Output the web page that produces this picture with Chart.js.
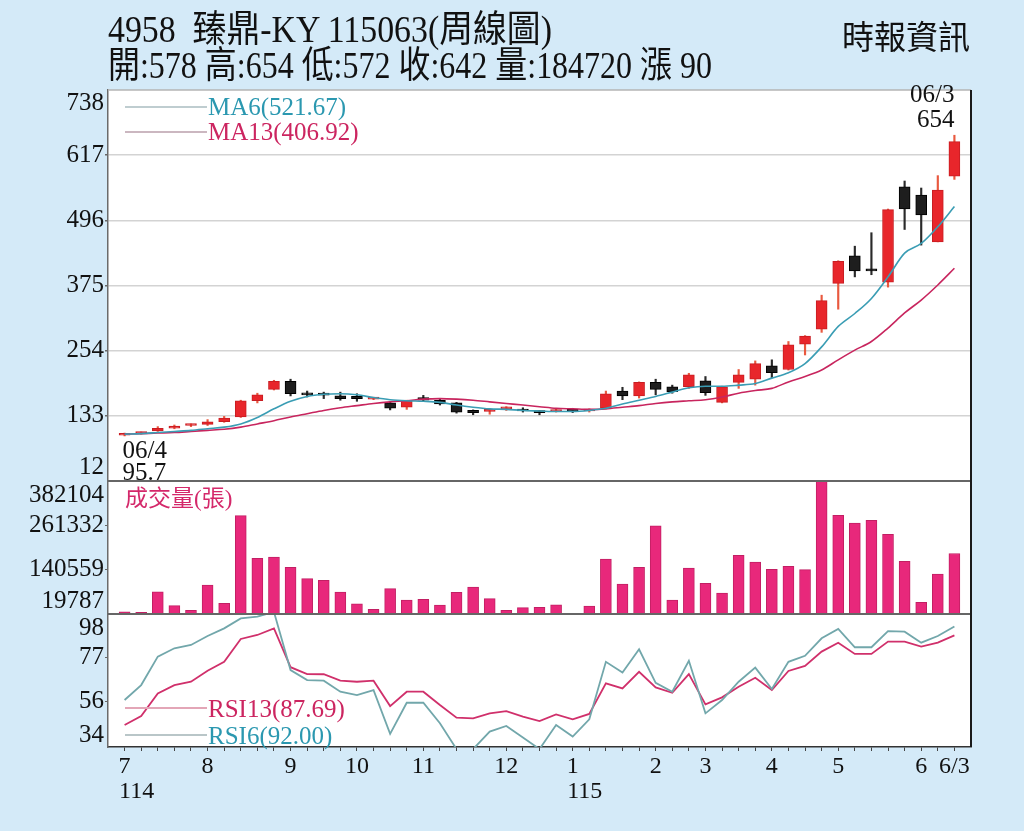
<!DOCTYPE html>
<html><head><meta charset="utf-8">
<script src="https://cdn.jsdelivr.net/npm/chart.js@4/dist/chart.umd.min.js"></script>
<style>
html,body{margin:0;padding:0;background:#d4eaf8;width:1024px;height:831px;overflow:hidden;}
#wrap{position:relative;width:1024px;height:831px;}
canvas{position:absolute;left:0;top:0;}
.t{position:absolute;white-space:pre;font-family:'Liberation Serif','Noto Sans CJK TC',serif;color:#111;transform-origin:left center;}
.ln{position:absolute;height:1.5px;}
</style></head><body>
<div id="wrap">
<canvas id="c" width="1024" height="831"></canvas>
<div class="t" id="title1" style="left:108px;top:11px;font-size:37px;line-height:38px;">4958  臻鼎-KY 115063(周線圖)</div>
<div class="t" id="title2" style="left:108px;top:47px;font-size:37px;line-height:38px;"></div>
<div class="t" id="brand" style="left:842px;top:21px;font-size:33px;line-height:34px;">時報資訊</div>
<div class="ln" style="left:125px;top:106px;width:82px;background:#bfcdd0;"></div>
<div class="ln" style="left:125px;top:131px;width:82px;background:#cbb7c0;"></div>
<div class="t" id="lgMA6" style="left:208px;top:94px;font-size:25px;line-height:25px;color:#2b98b0;"></div>
<div class="t" id="lgMA13" style="left:208px;top:119px;font-size:25px;line-height:25px;color:#cc2560;"></div>
<div class="t" id="lgVol" style="left:125px;top:486px;font-size:23px;line-height:25px;color:#d4286a;">成交量(張)</div>
<div class="ln" style="left:125px;top:707px;width:82px;background:#e3a6b7;"></div>
<div class="ln" style="left:125px;top:734px;width:82px;background:#b9c6c8;"></div>
<div class="t" id="lgRSI13" style="left:208px;top:696px;font-size:25px;line-height:25px;color:#cc2560;"></div>
<div class="t" id="lgRSI6" style="left:208px;top:723px;font-size:25px;line-height:25px;color:#2b98b0;"></div>
</div>
<script>
// ---- data (weekly, 06/4 of year 114 to 06/3 of year 115) ----
const dateFirst = '06/4';
const dateLast = '06/3';
const openP  = [97,100,105,110,115,117,122,131,161,182,197,175,172,170,169,164,157,149,167,162,157,143,141,146,145,139.5,141,145,142,147,179,170,195,187,187,198,158,195,201,226,219,266,294,379,430,406,381,558,543,456,578];
const highP  = [101,103,113,116,118,126,132,162,175,199,201,179,177,177,174,167,159,162,171,165,158,144,146,150,148,142,146,147,146,179,186,196,201,190,212,206,188,219,235,237,271,282,357,421,448,473,517,569,556,579,654];
const lowP   = [95.7,99,104,109,113,115,121,130,157,181,170,168,165,162,160,163,144,145,160,153,138,135,136,143,140,135,140,139,140,146,163,166,172,175,184,171,157,184,190,204,218,246,288,331,391,395,372,479,450,456,572];
const closeP = [100,102,110,114,116,122,129,161,172,197,174,172,171.5,165,165,165,147,161,162,155,140,139,145,147,142,139,144,141,143,174,170,195,182,178,209,176,187,209,230,213,265,281,347,420,402,402,516,517,506,552,642];
const volume = [26000,24400,80500,42400,29900,98800,49000,287600,171500,175100,147000,116000,111600,79700,47800,32600,88700,57900,59800,44300,78900,93300,61500,29900,37000,38000,45100,15000,41600,169600,101500,147000,260300,57900,145100,103400,77000,179700,161400,141500,149700,140500,382104,288700,267700,275000,236900,163300,51700,128800,184720];
const ma6  = [99,100,102,104,106,109,112,118,130,146,160,169,173,174,172,167,163,161,160,158,153,149,146,145,143,142,141,141,143,147,155,162,169,177,185,188,188,190,193,203,213,230,261,299,323,351,391,435,453,484,521.67];
const ma13 = [99,100,101,102,104,106,108,112,118,124,131,137,143,148,152,156,159,161,164,165,164,162,159,156,153,150,147,146,145,146,149,152,156,159,161,163,168,175,180,184,196,206,218,237,255,271,296,324,348,376,406.92];
const rsi6  = [56.6,63.8,77.5,81.5,83.1,87.4,91.1,95.9,96.7,99,71,66.2,65.9,60.6,59,61.4,40.3,55.3,55.3,45.4,33,33,41.4,44.1,38.6,33,44.6,39,47.3,75,69.8,81,64.9,60.6,75.5,50.2,56.6,65.4,72.2,61.9,75,77.9,86.3,90.8,82,82,89.8,89.5,84.2,87.4,92.00];
const rsi13 = [44.6,48.9,59.8,63.8,65.4,70.7,75,86,87.9,91.1,72.4,69.1,69,65.9,65.4,65.9,53.7,60.6,60.6,54.2,48.1,47.8,50.2,51.3,48.6,46.5,49.7,47.3,49.9,64.6,62.2,70.2,62.7,60.1,69.1,54.5,57.9,63,67.3,61.4,70.6,73,79.9,84.2,78.8,78.8,84.7,84.7,82.3,84.2,87.69];
const priceTicks  = [738,617,496,375,254,133,12];
const volumeTicks = [382104,261332,140559,19787];
const rsiTicks    = [98,77,56,34];
const monthTickIdx    = [0,5,10,14,18,23,27,32,35,39,43,48,50];
const monthTickLabels = [['7','    114'],'8','9','10','11','12',['1','    115'],'2','3','4','5','6','6/3'];

// ---- text ----
const last = closeP.length - 1;
document.getElementById('title2').textContent =
  `開:${openP[last]} 高:${highP[last]} 低:${lowP[last]} 收:${closeP[last]} 量:${volume[last]} 漲 ${closeP[last]-closeP[last-1]}`;
document.getElementById('lgMA6').textContent = `MA6(${ma6[last].toFixed(2)})`;
document.getElementById('lgMA13').textContent = `MA13(${ma13[last].toFixed(2)})`;
document.getElementById('lgRSI13').textContent = `RSI13(${rsi13[last].toFixed(2)})`;
document.getElementById('lgRSI6').textContent = `RSI6(${rsi6[last].toFixed(2)})`;
function fit(id, w){ const el=document.getElementById(id); const r=w/el.getBoundingClientRect().width; el.style.transform='scaleX('+r+')'; }
fit('title1', 444); fit('title2', 604); fit('brand', 128);

// ---- chart ----
const idx = closeP.map((_, i) => i);
const up = idx.map(i => closeP[i] >= openP[i]);
const SERIF = "'Liberation Serif', serif";
const tickFont = {family: SERIF, size: 25};

function endTicks(values, topFrac, botFrac){
  return axis => {
    const r = axis.max - axis.min;
    axis.ticks = values.map((v, i) => ({value: i === 0 ? v - r*topFrac : (i === values.length-1 ? v + r*botFrac : v)}));
  };
}
function midOnly(n, color){ return ctx => (ctx.index > 0 && ctx.index < n-1) ? color : 'rgba(0,0,0,0)'; }

const panels = {
  id: 'panels',
  beforeDraw(chart){
    const {ctx, chartArea: a} = chart;
    ctx.save(); ctx.fillStyle = '#ffffff'; ctx.fillRect(a.left, a.top, a.width, a.height); ctx.restore();
  },
  afterDraw(chart){
    const {ctx, chartArea: a, scales} = chart;
    ctx.save();
    ctx.strokeStyle = '#b5b5b5'; ctx.lineWidth = 1.5;
    ctx.beginPath(); ctx.moveTo(a.left, a.top); ctx.lineTo(a.right, a.top); ctx.stroke();
    ctx.strokeStyle = '#666'; ctx.lineWidth = 2;
    [scales.yV.top, scales.yR.top].forEach(y => { ctx.beginPath(); ctx.moveTo(a.left, y); ctx.lineTo(a.right, y); ctx.stroke(); });
    ctx.strokeStyle = '#1a1a1a'; ctx.lineWidth = 2;
    ctx.beginPath(); ctx.moveTo(a.right, a.top); ctx.lineTo(a.right, a.bottom); ctx.stroke();
    // annotations: first low and last high
    ctx.fillStyle = '#111'; ctx.font = '25px ' + SERIF; ctx.textBaseline = 'middle';
    const x0 = scales.x.getPixelForValue(0), yl = scales.yP.getPixelForValue(lowP[0]);
    ctx.textAlign = 'left';
    ctx.fillText(dateFirst, x0 - 2, yl + 16);
    ctx.fillText(String(lowP[0]), x0 - 2, yl + 38);
    const xn = scales.x.getPixelForValue(last), yh = scales.yP.getPixelForValue(highP[last]);
    ctx.textAlign = 'right';
    ctx.fillText(dateLast, xn, yh - 40);
    ctx.fillText(String(highP[last]), xn, yh - 15);
    ctx.restore();
  }
};

new Chart(document.getElementById('c'), {
  type: 'bar',
  data: {
    datasets: [
      {type:'line', label:'MA6', data: idx.map(i => ({x:i, y:ma6[i]})), yAxisID:'yP', borderColor:'#3a9db4', borderWidth:1.6, pointRadius:0, cubicInterpolationMode:'monotone', order:0, clip:0},
      {type:'line', label:'MA13', data: idx.map(i => ({x:i, y:ma13[i]})), yAxisID:'yP', borderColor:'#c8255e', borderWidth:1.6, pointRadius:0, cubicInterpolationMode:'monotone', order:0, clip:0},
      {type:'line', label:'RSI6', data: idx.map(i => ({x:i, y:rsi6[i]})), yAxisID:'yR', borderColor:'#72a7ab', borderWidth:1.8, pointRadius:0, tension:0, order:0, clip:0},
      {type:'line', label:'RSI13', data: idx.map(i => ({x:i, y:rsi13[i]})), yAxisID:'yR', borderColor:'#d0306b', borderWidth:1.8, pointRadius:0, tension:0, order:0, clip:0},
      {type:'bar', label:'body', data: idx.map(i => ({x:i, y:[openP[i], closeP[i]]})), yAxisID:'yP',
        backgroundColor: idx.map(i => up[i] ? '#e8262b' : '#1e1e1e'), borderColor: idx.map(i => up[i] ? '#c81d22' : '#000'),
        borderWidth:1, borderSkipped:false, barThickness:11, minBarLength:2, grouped:false, order:1, clip:0},
      {type:'bar', label:'wick', data: idx.map(i => ({x:i, y:[lowP[i], highP[i]]})), yAxisID:'yP',
        backgroundColor: idx.map(i => up[i] ? '#e9593f' : '#2a2a2a'), barThickness:1.5, grouped:false, order:2, clip:0},
      {type:'bar', label:'vol', data: idx.map(i => ({x:i, y:volume[i]})), yAxisID:'yV',
        backgroundColor:'#e8287b', borderColor:'#c21f63', borderWidth:1, barThickness:11, grouped:false, order:3, clip:0}
    ]
  },
  options: {
    responsive:false, devicePixelRatio:1, animation:false,
    layout: {padding: {top:90, right:53, left:0, bottom:0}},
    plugins: {legend:{display:false}, tooltip:{enabled:false}},
    scales: {
      x: {type:'linear', min:-1, max:51, offset:false, position:'bottom',
        afterBuildTicks: a => { a.ticks = idx.map(i => ({value:i})); },
        afterFit: a => { a.height = 84; },
        ticks: {autoSkip:false, maxRotation:0, minRotation:0, padding:3, color:'#111', font:{family:SERIF, size:24, lineHeight:1.05},
          callback: v => { const k = monthTickIdx.indexOf(v); return k >= 0 ? monthTickLabels[k] : ''; }},
        grid: {drawOnChartArea:false, drawTicks:true, tickLength:4, color:'#444', offset:false},
        border: {display:true, color:'#333', width:1.5}},
      yP: {type:'linear', position:'left', stack:'s', stackWeight:391, weight:3, min:12, max:738,
        afterBuildTicks: endTicks(priceTicks, 13/391, 14/391), afterFit: a => { a.width = 108; },
        ticks: {autoSkip:false, padding:1, color:'#111', font:tickFont, callback:(v,i) => String(priceTicks[i])},
        grid: {color: midOnly(priceTicks.length, '#d3d3d3'), lineWidth:1.5, drawTicks:true, tickLength:3, tickColor: midOnly(priceTicks.length, '#666')},
        border: {display:true, color:'#6b6b6b', width:1.5}},
      yV: {type:'linear', position:'left', stack:'s', stackWeight:133, weight:2, min:19787, max:382104,
        afterBuildTicks: endTicks(volumeTicks, 14/133, 13/133), afterFit: a => { a.width = 108; },
        ticks: {autoSkip:false, padding:1, color:'#111', font:tickFont, callback:(v,i) => String(volumeTicks[i])},
        grid: {drawOnChartArea:false, drawTicks:true, tickLength:3, color: midOnly(volumeTicks.length, '#666')},
        border: {display:true, color:'#6b6b6b', width:1.5}},
      yR: {type:'linear', position:'left', stack:'s', stackWeight:133, weight:1, min:34, max:98,
        afterBuildTicks: endTicks(rsiTicks, 14/133, 12/133), afterFit: a => { a.width = 108; },
        ticks: {autoSkip:false, padding:1, color:'#111', font:tickFont, callback:(v,i) => String(rsiTicks[i])},
        grid: {drawOnChartArea:false, drawTicks:true, tickLength:3, color: midOnly(rsiTicks.length, '#666')},
        border: {display:true, color:'#6b6b6b', width:1.5}}
    }
  },
  plugins: [panels]
});
</script>
</body></html>
